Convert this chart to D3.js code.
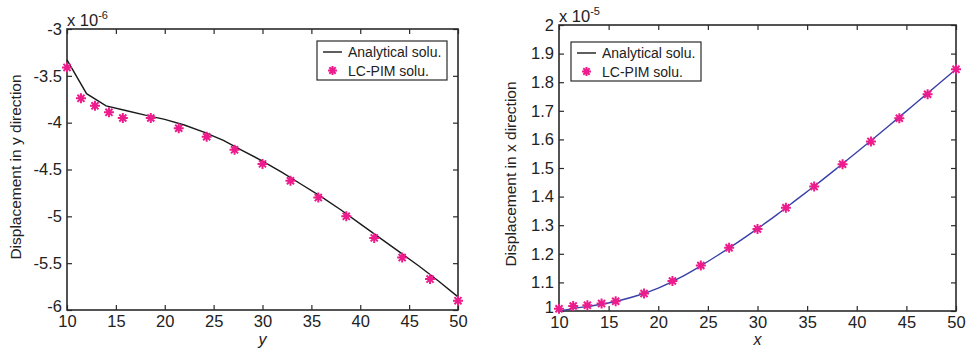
<!DOCTYPE html>
<html>
<head>
<meta charset="utf-8">
<script src="https://cdn.jsdelivr.net/npm/d3@7"></script>
<style>
  html, body { margin: 0; padding: 0; background: #fff; }
  svg { display: block; font-family: "Liberation Sans", Arial, Helvetica, sans-serif; }
</style>
</head>
<body>
<svg id="chart" width="969" height="349"></svg>
<script>
// Sample positions of the LC-PIM nodes (shared by both panels)
const nodePos = [10, 11.43, 12.86, 14.29, 15.71, 18.57, 21.43, 24.29, 27.14, 30,
  32.86, 35.71, 38.57, 41.43, 44.29, 47.14, 50];
// Positions where the analytical solution is sampled
const exactPos = [10, 12, 14, 16, 18, 20, 22, 24, 26, 28, 30,
  32, 34, 36, 38, 40, 42, 44, 46, 48, 50];

// Left panel: displacement in y direction (x 1e-6)
const uyExact = [-3.33, -3.69, -3.82, -3.87, -3.92, -3.965, -4.025, -4.10, -4.19, -4.30, -4.41,
  -4.53, -4.66, -4.79, -4.93, -5.08, -5.23, -5.38, -5.53, -5.69, -5.86];
const uyPim = [-3.41, -3.74, -3.82, -3.89, -3.95, -3.95, -4.06, -4.15, -4.29, -4.44,
  -4.62, -4.80, -5.00, -5.23, -5.44, -5.67, -5.90];
const uyTicks = [-3, -3.5, -4, -4.5, -5, -5.5, -6];

// Right panel: displacement in x direction (x 1e-5)
const uxExact = [1.000, 1.012, 1.022, 1.036, 1.055, 1.080, 1.113, 1.152, 1.195, 1.240, 1.288,
  1.338, 1.391, 1.444, 1.499, 1.555, 1.612, 1.670, 1.728, 1.787, 1.845];
const uxPim = [1.008, 1.0175, 1.02, 1.026, 1.034, 1.061, 1.105, 1.159, 1.221, 1.287,
  1.361, 1.435, 1.513, 1.593, 1.674, 1.758, 1.845];
const uxTicks = [1, 1.1, 1.2, 1.3, 1.4, 1.5, 1.6, 1.7, 1.8, 1.9, 2];

const posTicks = [10, 15, 20, 25, 30, 35, 40, 45, 50];
const legendLabels = ['Analytical solu.', 'LC-PIM solu.'];

const MARKER_COLOR = '#ec1c8c';
const AXIS_COLOR = '#2a2a2a';
const TEXT_COLOR = '#222';

const svg = d3.select('#chart');

// MATLAB-style '*' marker: four crossing strokes
function asterisk(g, cx, cy, r) {
  const d = r * Math.SQRT1_2;
  g.append('path')
    .attr('d', `M${cx - r},${cy}H${cx + r}M${cx},${cy - r}V${cy + r}` +
      `M${cx - d},${cy - d}L${cx + d},${cy + d}M${cx - d},${cy + d}L${cx + d},${cy - d}`)
    .attr('stroke', MARKER_COLOR)
    .attr('stroke-width', 2)
    .attr('fill', 'none');
}

function drawPanel(cfg) {
  const { left, right, top, bottom } = cfg.box;
  const x = d3.scaleLinear().domain([10, 50]).range([left, right]);
  const y = d3.scaleLinear().domain(cfg.yDomain).range([bottom, top]);
  const g = svg.append('g');
  const tickLen = 5;
  const plain = d => String(d); // keep ASCII hyphen like the original

  // Ticks pointing inward on all four sides
  g.append('g')
    .attr('transform', `translate(0,${bottom})`)
    .call(d3.axisBottom(x).tickValues(posTicks).tickSize(-tickLen).tickPadding(5).tickFormat(plain))
    .call(a => a.select('.domain').remove());
  g.append('g')
    .attr('transform', `translate(0,${top})`)
    .call(d3.axisTop(x).tickValues(posTicks).tickSize(-tickLen).tickFormat(''))
    .call(a => a.select('.domain').remove());
  const yAxis = g.append('g')
    .attr('transform', `translate(${left},0)`)
    .call(d3.axisLeft(y).tickValues(cfg.yTicks).tickSize(-tickLen).tickPadding(5).tickFormat(plain))
    .call(a => a.select('.domain').remove());
  // lowest y label sits tight against the first x label; lift it a touch
  yAxis.selectAll('.tick text').filter(d => d === cfg.yDomain[0]).attr('dy', '0.1em');
  g.append('g')
    .attr('transform', `translate(${right},0)`)
    .call(d3.axisRight(y).tickValues(cfg.yTicks).tickSize(-tickLen).tickFormat(''))
    .call(a => a.select('.domain').remove());

  g.selectAll('.tick line').attr('stroke', AXIS_COLOR).attr('stroke-width', 1.2);
  g.selectAll('.tick text')
    .attr('fill', TEXT_COLOR)
    .style('font-size', '16.5px')
    .style('font-family', '"Liberation Sans", Arial, sans-serif');

  g.append('rect')
    .attr('x', left).attr('y', top)
    .attr('width', right - left).attr('height', bottom - top)
    .attr('fill', 'none')
    .attr('stroke', AXIS_COLOR)
    .attr('stroke-width', 1.6);

  // Analytical curve
  const line = d3.line().x((d, i) => x(exactPos[i])).y(d => y(d));
  if (cfg.smooth) line.curve(d3.curveMonotoneX);
  g.append('path')
    .datum(cfg.exact)
    .attr('d', line)
    .attr('fill', 'none')
    .attr('stroke', cfg.lineColor)
    .attr('stroke-width', 1.4);

  // LC-PIM points
  const pts = g.append('g');
  cfg.pim.forEach((v, i) => asterisk(pts, x(nodePos[i]), y(v), 5));

  // Exponent label
  const ex = g.append('text')
    .attr('x', left)
    .attr('y', top - 3)
    .attr('fill', TEXT_COLOR)
    .style('font-size', '16.5px');
  ex.append('tspan').text('x 10');
  ex.append('tspan').attr('dy', -7).style('font-size', '11px').text(cfg.exponent);

  // Axis titles
  g.append('text')
    .attr('x', (left + right) / 2)
    .attr('y', 345)
    .attr('text-anchor', 'middle')
    .attr('fill', TEXT_COLOR)
    .style('font-size', '16px')
    .style('font-style', 'italic')
    .text(cfg.xLabel);
  g.append('text')
    .attr('transform', `translate(${cfg.yLabelX},${cfg.yLabelY}) rotate(-90)`)
    .attr('text-anchor', 'middle')
    .attr('fill', TEXT_COLOR)
    .style('font-size', '15.5px')
    .text(cfg.yLabel);

  // Legend
  const lg = g.append('g').attr('transform', `translate(${cfg.legend[0]},${cfg.legend[1]})`);
  lg.append('rect')
    .attr('width', 130).attr('height', 39)
    .attr('fill', '#fff')
    .attr('stroke', AXIS_COLOR)
    .attr('stroke-width', 1.2);
  lg.append('line')
    .attr('x1', 6).attr('x2', 25).attr('y1', 11).attr('y2', 11)
    .attr('stroke', cfg.legendLine)
    .attr('stroke-width', 1.4);
  asterisk(lg, 15.5, 29.5, 4.5);
  lg.selectAll('text.lab')
    .data(legendLabels)
    .join('text')
    .attr('class', 'lab')
    .attr('x', 31)
    .attr('y', (d, i) => 16 + i * 18.5)
    .attr('fill', TEXT_COLOR)
    .style('font-size', '14px')
    .text(d => d);
}

drawPanel({
  box: { left: 67, right: 458, top: 29, bottom: 310 },
  yDomain: [-6, -3],
  yTicks: uyTicks,
  exact: uyExact,
  pim: uyPim,
  smooth: false,
  lineColor: '#1a1a1a',
  legendLine: '#1a1a1a',
  exponent: '-6',
  xLabel: 'y',
  yLabel: 'Displacement in y direction',
  yLabelX: 21,
  yLabelY: 167,
  legend: [317, 41]
});

drawPanel({
  box: { left: 559, right: 956, top: 25, bottom: 311 },
  yDomain: [1, 2],
  yTicks: uxTicks,
  exact: uxExact,
  pim: uxPim,
  smooth: true,
  lineColor: '#3a40a8',
  legendLine: '#1a1a1a',
  exponent: '-5',
  xLabel: 'x',
  yLabel: 'Displacement in x direction',
  yLabelX: 516,
  yLabelY: 174,
  legend: [571, 42]
});
</script>
</body>
</html>
